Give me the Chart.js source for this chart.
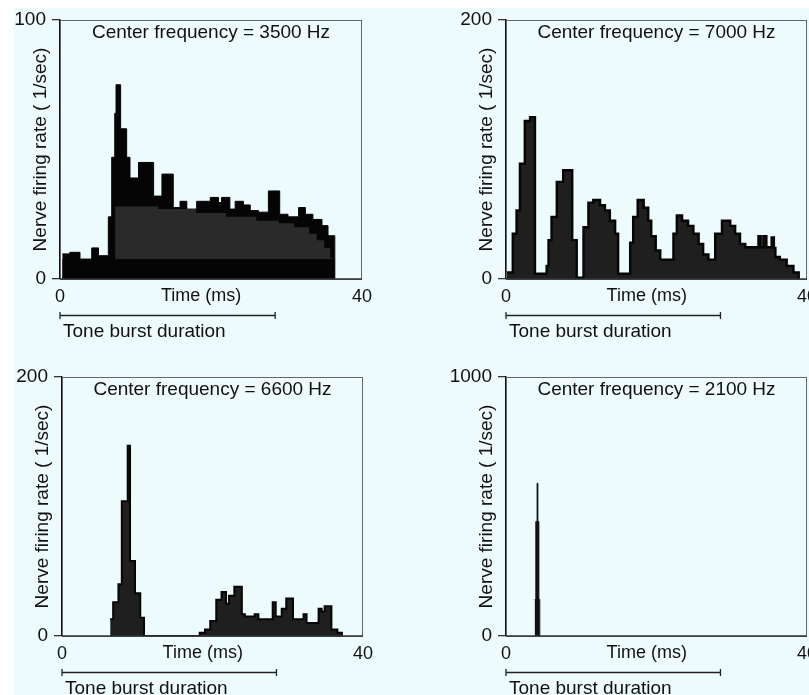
<!DOCTYPE html>
<html>
<head>
<meta charset="utf-8">
<script src="https://cdn.jsdelivr.net/npm/chart.js@4.4.0/dist/chart.umd.min.js"></script>
<style>
    body { margin: 0; background: #fff; width: 809px; height: 695px; overflow: hidden; }
    #bg { position: absolute; left: 14px; top: 8px; width: 795px; height: 687px; background: #eefbfc; }
    canvas { position: absolute; }
</style>
</head>
<body>
<div id="bg"></div>
<canvas id="c3500" width="400" height="340" style="left:0px;top:0px"></canvas>
<canvas id="c7000" width="363" height="340" style="left:446px;top:0px"></canvas>
<canvas id="c6600" width="398" height="338" style="left:2px;top:357px"></canvas>
<canvas id="c2100" width="363" height="338" style="left:446px;top:357px"></canvas>
<script>
// Each histogram is a list of steps: start time (ms) and the rate that holds until the next start
const p1Time = [0.3, 1.3, 2.65, 4.2, 5.1, 6.4, 6.85, 7.25, 7.42, 8.03, 8.83, 9.27, 10.4, 12.4, 13.5, 15.0, 15.9, 16.8, 18.1,
    19.9, 21.0, 21.4, 22.5, 23.2, 24.3, 25.2, 26.3, 27.6, 29.1, 30.2, 31.6, 32.5, 33.5, 34.7, 35.5, 36.4];
const p1Rate = [9.7, 10.3, 7.7, 12, 9, 24, 47, 64, 75, 58, 47, 39, 45, 32, 40.5, 27.6, 30, 27, 30,
    31.5, 29.5, 31.5, 27, 30, 28.6, 26.4, 25.8, 34, 25, 24, 27.6, 25, 23, 20.6, 16.7, 0];
// inner grey layer and black base band of the 3500 Hz plot
const p1GreyTime = [7.3, 13, 18, 22, 26, 29, 31, 33, 34, 35, 35.8, 36.2];
const p1GreyRate = [28, 27, 25.5, 24, 22.5, 21.5, 20, 17.5, 15, 12, 8, 0];
const p1BaseTime = [0.3, 36.4];
const p1BaseRate = [7.7, 0];

const p2Time = [0.1, 0.9, 1.4, 1.85, 2.5, 3.2, 3.85, 5.4, 5.65, 6.05, 6.75, 7.6, 8.8, 9.4, 10.3, 10.95, 11.6, 12.5, 13.15,
    13.8, 14.5, 14.9, 16.5, 16.9, 17.5, 18.3, 18.9, 19.3, 19.9, 20.5, 22.25, 22.7, 23.4, 24.2, 24.9, 25.6, 26.2, 26.9,
    27.8, 28.7, 29.8, 30.45, 31.1, 31.8, 33.55, 33.85, 34.2, 34.6, 35.3, 35.6, 35.8, 36.4, 37.3, 38.2, 38.9];
const p2Rate = [5, 35, 53, 89, 122, 125, 4, 10, 30, 48, 75, 84, 30, 1, 40, 59, 61, 57, 53,
    45, 35, 4, 28, 48, 61, 55, 45, 33, 22, 15, 35, 49, 45, 41, 35, 27, 19, 15,
    35, 45, 41, 35, 27, 24.5, 33, 24.5, 33, 24.5, 32, 24, 17, 15, 10, 5, 0];

const p3Time = [6.4, 6.8, 7.5, 7.95, 8.73, 9.04, 9.7, 10.4, 10.9, 18.3, 19.0, 19.7, 20.5, 21.2, 21.8, 22.2, 22.9, 23.9,
    24.3, 25.6, 26.1, 28.0, 28.4, 29.2, 29.8, 30.7, 32.1, 32.5, 34.1, 34.5, 34.9, 35.8, 36.6, 37.2];
const p3Rate = [13, 26, 40, 104, 147, 58, 33, 14, 0, 2.5, 5, 11.5, 28, 34, 25, 31, 38, 16.7,
    15, 16.7, 13, 26, 15, 21, 29, 13, 16.7, 10, 21, 19, 23, 5, 2.5, 0];

const p4Time = [3.8, 3.95, 4.12, 4.25, 4.38, 4.5];
const p4Rate = [141, 442, 590, 442, 141, 0];

const toneBurstMs = [0, 28.5];
const timeTicks = [0, 40];

const FONT = '"Liberation Sans", Arial, sans-serif';
Chart.defaults.font.family = FONT;
Chart.defaults.font.size = 19;
Chart.defaults.color = '#111';

function steps(times, rates) {
    return times.map((t, i) => ({ x: t, y: rates[i] }));
}

// frame, heading, "Time (ms)" and the tone burst bar
const annotPlugin = {
    id: 'annot',
    afterDraw(chart, args, opts) {
        const { ctx, chartArea: a, scales: { x } } = chart;
        ctx.save();
        ctx.strokeStyle = '#666';
        ctx.lineWidth = 1;
        ctx.strokeRect(a.left + 0.5, a.top + 0.5, a.right - a.left - 1, a.bottom - a.top);
        ctx.strokeStyle = '#333';
        ctx.lineWidth = 1.4;
        ctx.beginPath();
        ctx.moveTo(a.left, a.bottom); ctx.lineTo(a.right, a.bottom);
        ctx.stroke();
        ctx.fillStyle = '#111';
        ctx.font = '19px ' + FONT;
        ctx.textAlign = 'center';
        ctx.textBaseline = 'middle';
        ctx.fillText(opts.heading, (a.left + a.right) / 2, a.top + 13);
        ctx.font = '18px ' + FONT;
        ctx.fillText('Time (ms)', x.getPixelForValue(18.7), a.bottom + 17);

        const x0 = x.getPixelForValue(toneBurstMs[0]);
        const x1 = x.getPixelForValue(toneBurstMs[1]);
        const ly = a.bottom + 36.5;
        ctx.strokeStyle = '#222';
        ctx.lineWidth = 1.3;
        ctx.beginPath();
        ctx.moveTo(x0, ly); ctx.lineTo(x1, ly);
        ctx.moveTo(x0, ly - 3.5); ctx.lineTo(x0, ly + 3.5);
        ctx.moveTo(x1, ly - 3.5); ctx.lineTo(x1, ly + 3.5);
        ctx.stroke();
        ctx.font = '19px ' + FONT;
        ctx.textAlign = 'left';
        ctx.fillText('Tone burst duration', x0 + 3, a.bottom + 53);
        ctx.restore();
    }
};

function histChart(id, heading, yMax, datasets, rightPad) {
    const canvas = document.getElementById(id);
    const xHeight = canvas.height - 20 - 259;
    return new Chart(canvas, {
        type: 'line',
        data: { datasets: datasets },
        plugins: [annotPlugin],
        options: {
            responsive: false,
            animation: false,
            devicePixelRatio: 1,
            layout: { autoPadding: false, padding: { top: 20, right: rightPad, bottom: 0, left: 0 } },
            elements: { point: { radius: 0 }, line: { tension: 0 } },
            plugins: {
                legend: { display: false },
                tooltip: { enabled: false },
                annot: { heading: heading }
            },
            scales: {
                x: {
                    type: 'linear',
                    min: timeTicks[0],
                    max: timeTicks[1],
                    afterBuildTicks: s => { s.ticks = timeTicks.map(v => ({ value: v })); },
                    afterFit: s => { s.height = xHeight; s.paddingLeft = 0; s.paddingRight = 0; },
                    grid: { display: false, drawTicks: false },
                    border: { display: false },
                    ticks: { padding: 7, maxRotation: 0, font: { size: 18 } }
                },
                y: {
                    min: 0,
                    max: yMax,
                    afterBuildTicks: s => { s.ticks = [{ value: 0 }, { value: yMax }]; },
                    afterFit: s => { s.width = 60; s.paddingTop = 0; s.paddingBottom = 0; },
                    grid: { drawOnChartArea: false, drawTicks: true, tickLength: 8, color: '#333', lineWidth: 1.3 },
                    border: { display: true, color: '#111', width: 1.5 },
                    ticks: { padding: 6, callback: v => String(v) },
                    title: { display: true, text: 'Nerve firing rate ( 1/sec)', padding: { top: 29 } }
                }
            }
        }
    });
}

function histSet(times, rates, fill, border, width, order) {
    return {
        data: steps(times, rates),
        stepped: 'before',
        fill: 'origin',
        backgroundColor: fill,
        borderColor: border,
        borderWidth: width,
        order: order
    };
}

histChart('c3500', 'Center frequency = 3500 Hz', 100, [
    histSet(p1Time, p1Rate, '#050505', '#050505', 1, 3),
    histSet(p1GreyTime, p1GreyRate, '#2a2a2a', '#2a2a2a', 0, 2),
    histSet(p1BaseTime, p1BaseRate, '#050505', '#050505', 0, 1)
], 38);

histChart('c7000', 'Center frequency = 7000 Hz', 200, [
    histSet(p2Time, p2Rate, '#1f1f1f', '#050505', 2.4, 1)
], 2);

histChart('c6600', 'Center frequency = 6600 Hz', 200, [
    histSet(p3Time, p3Rate, '#1f1f1f', '#050505', 2, 1)
], 37);

histChart('c2100', 'Center frequency = 2100 Hz', 1000, [
    histSet(p4Time, p4Rate, '#111111', '#111111', 0.8, 1)
], 2);
</script>
</body>
</html>
